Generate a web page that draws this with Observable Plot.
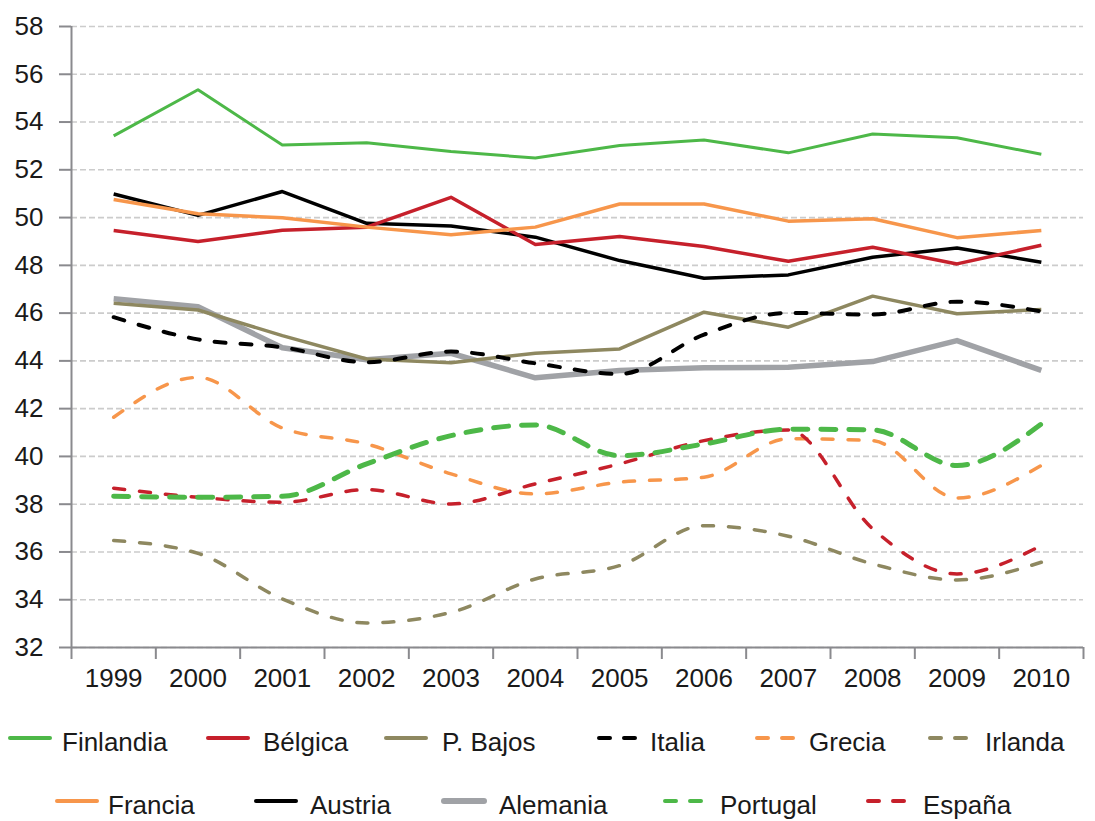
<!DOCTYPE html>
<html><head><meta charset="utf-8">
<script src="https://cdn.jsdelivr.net/npm/d3@7"></script>
<script src="https://cdn.jsdelivr.net/npm/@observablehq/plot@0.6"></script>
<style>
body{margin:0;background:#fff;font-family:"Liberation Sans",Arial,sans-serif;}
#wrap{position:relative;width:1095px;height:821px;overflow:hidden;background:#fff;}
#legend{position:absolute;left:0;top:700px;}
</style></head><body><div id="wrap"></div>
<script>
const years = [1999, 2000, 2001, 2002, 2003, 2004, 2005, 2006, 2007, 2008, 2009, 2010];
const yTicks = [32, 34, 36, 38, 40, 42, 44, 46, 48, 50, 52, 54, 56, 58];

const finlandia = [53.42, 55.35, 53.04, 53.13, 52.77, 52.49, 53.02, 53.25, 52.71, 53.50, 53.34, 52.65];
const belgica   = [49.46, 49.00, 49.47, 49.60, 50.85, 48.87, 49.21, 48.79, 48.17, 48.76, 48.06, 48.84];
const pBajos    = [46.41, 46.13, 45.06, 44.08, 43.92, 44.32, 44.50, 46.04, 45.41, 46.71, 45.97, 46.15];
const italia    = [45.83, 44.90, 44.57, 43.94, 44.39, 43.90, 43.45, 45.10, 46.01, 45.94, 46.48, 46.07];
const grecia    = [41.64, 43.31, 41.19, 40.52, 39.27, 38.43, 38.92, 39.13, 40.74, 40.66, 38.26, 39.62];
const irlanda   = [36.48, 35.94, 34.03, 33.03, 33.47, 34.87, 35.43, 37.10, 36.66, 35.50, 34.83, 35.57];
const francia   = [50.76, 50.16, 49.99, 49.60, 49.28, 49.60, 50.57, 50.57, 49.85, 49.95, 49.16, 49.46];
const austria   = [50.99, 50.09, 51.09, 49.76, 49.65, 49.18, 48.20, 47.46, 47.60, 48.34, 48.73, 48.13];
const alemania  = [46.60, 46.27, 44.55, 44.05, 44.32, 43.29, 43.60, 43.71, 43.73, 43.97, 44.85, 43.60];
const portugal  = [38.33, 38.29, 38.33, 39.69, 40.87, 41.32, 40.03, 40.52, 41.14, 41.11, 39.62, 41.36];
const espana    = [38.67, 38.29, 38.08, 38.61, 38.01, 38.85, 39.69, 40.66, 41.11, 36.97, 35.08, 36.27];

const legendOrder = ["Finlandia", "Bélgica", "P. Bajos", "Italia", "Grecia", "Irlanda",
                     "Francia", "Austria", "Alemania", "Portugal", "España"];

// styles
const GREEN = "#4db848", RED = "#c6202b", OLIVE = "#8e8860", ORANGE = "#f7964b", BLACK = "#000000", GRAY = "#a0a2a6";
const series = {
  "Finlandia": {values: finlandia, stroke: GREEN, width: 3, dash: null},
  "Bélgica":   {values: belgica, stroke: RED, width: 3.5, dash: null},
  "P. Bajos":  {values: pBajos, stroke: OLIVE, width: 3.5, dash: null},
  "Italia":    {values: italia, stroke: BLACK, width: 4, dash: "11,15"},
  "Grecia":    {values: grecia, stroke: ORANGE, width: 3.5, dash: "11,15"},
  "Irlanda":   {values: irlanda, stroke: OLIVE, width: 3.5, dash: "11,15"},
  "Francia":   {values: francia, stroke: ORANGE, width: 3.5, dash: null},
  "Austria":   {values: austria, stroke: BLACK, width: 3.5, dash: null},
  "Alemania":  {values: alemania, stroke: GRAY, width: 5.5, dash: null},
  "Portugal":  {values: portugal, stroke: GREEN, width: 5, dash: "15,13"},
  "España":    {values: espana, stroke: RED, width: 3.5, dash: "11,15"}
};
const drawOrder = ["Alemania", "Austria", "Bélgica", "Francia", "P. Bajos", "Finlandia",
                   "Italia", "Irlanda", "Grecia", "España", "Portugal"];

const rows = Object.entries(series).flatMap(([name, s]) =>
  s.values.map((v, i) => ({name, year: years[i], value: v})));

const boundaries = d3.range(years[0] - 0.5, years[years.length - 1] + 1, 1);
const AXIS = "#8a8a8e";

const lineMarks = drawOrder.map(name => {
  const s = series[name];
  return Plot.line(rows.filter(d => d.name === name), {
    x: "year", y: "value", stroke: s.stroke, strokeWidth: s.width,
    strokeDasharray: s.dash || undefined,
    strokeLinecap: s.dash ? "round" : "butt",
    strokeLinejoin: "round",
    curve: s.dash ? "monotone-x" : "linear"
  });
});

const chart = Plot.plot({
  width: 1095, height: 700,
  marginLeft: 71, marginRight: 12, marginTop: 26, marginBottom: 53,
  style: {fontFamily: "'Liberation Sans', Arial, sans-serif", fontSize: "26px", color: "#1a1a1a", background: "white", overflow: "visible"},
  x: {type: "linear", domain: [years[0] - 0.5, years[years.length - 1] + 0.5]},
  y: {domain: [32, 58]},
  marks: [
    Plot.gridY(yTicks, {stroke: "#cccccc", strokeOpacity: 1, strokeWidth: 1.6, strokeDasharray: "6,3"}),
    Plot.axisY(yTicks, {tickSize: 12, tickPadding: 16, stroke: AXIS, strokeWidth: 2, label: null, fill: "#1a1a1a", fontSize: 26}),
    Plot.axisX(boundaries, {tickSize: 12, tickFormat: () => "", stroke: AXIS, strokeWidth: 2, label: null}),
    Plot.axisX(years, {tickSize: 0, tickPadding: 21, tickFormat: d => String(d), label: null, fill: "#1a1a1a", fontSize: 26}),
    Plot.ruleX([years[0] - 0.5], {stroke: AXIS, strokeWidth: 2}),
    Plot.ruleY([32], {stroke: AXIS, strokeWidth: 2}),
    ...lineMarks
  ]
});
const wrap = document.getElementById("wrap");
wrap.appendChild(chart);

// legend (layout positions)
const legendLayout = [
  [10, 62, 0], [208, 263, 0], [386, 442, 0], [597, 650, 0], [755, 809, 0], [928, 985, 0],
  [57, 108, 1], [256, 310, 1], [444, 499, 1], [663, 720, 1], [866, 923, 1]
];
const ns = "http://www.w3.org/2000/svg";
const leg = document.createElementNS(ns, "svg");
leg.setAttribute("id", "legend");
leg.setAttribute("width", 1095);
leg.setAttribute("height", 121);
const swY = [38, 101], txY = [51, 114];
legendOrder.forEach((name, i) => {
  const s = series[name];
  const [sx, tx, r] = legendLayout[i];
  const ln = document.createElementNS(ns, "line");
  ln.setAttribute("x1", sx + (s.dash ? 2 : 0)); ln.setAttribute("x2", sx + 40 - (s.dash ? 2 : 0));
  ln.setAttribute("y1", swY[r]); ln.setAttribute("y2", swY[r]);
  ln.setAttribute("stroke", s.stroke);
  ln.setAttribute("stroke-width", name === "Alemania" ? 6 : 4);
  ln.setAttribute("stroke-linecap", "round");
  if (s.dash) ln.setAttribute("stroke-dasharray", "11,14");
  leg.appendChild(ln);
  const t = document.createElementNS(ns, "text");
  t.setAttribute("x", tx); t.setAttribute("y", txY[r]);
  t.setAttribute("font-size", 26);
  t.setAttribute("font-family", "'Liberation Sans', Arial, sans-serif");
  t.setAttribute("fill", "#1a1a1a");
  t.textContent = name;
  leg.appendChild(t);
});
wrap.appendChild(leg);
</script>
</body></html>
